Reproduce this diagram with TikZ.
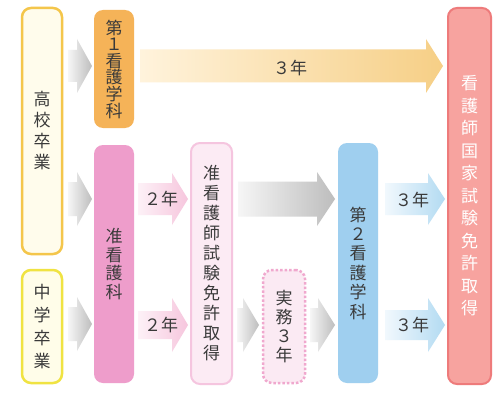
\documentclass[tikz,border=0pt]{standalone}
\usepackage{fontspec}
\newfontfamily\jp{Noto Sans CJK JP}
\definecolor{txt}{HTML}{3A3A3A}
\definecolor{hsB}{HTML}{F4C64B}
\definecolor{hsF}{HTML}{FFFCEC}
\definecolor{csB}{HTML}{F0E342}
\definecolor{csF}{HTML}{FFFDE9}
\definecolor{orBox}{HTML}{F5B358}
\definecolor{pkBox}{HTML}{EE9DCB}
\definecolor{jmF}{HTML}{FCEBF4}
\definecolor{jmB}{HTML}{F5C5DF}
\definecolor{jtF}{HTML}{FBEAF3}
\definecolor{jtB}{HTML}{F0A8CE}
\definecolor{blBox}{HTML}{9FCFEF}
\definecolor{rdF}{HTML}{F7A39F}
\definecolor{rdB}{HTML}{EE7B7B}
\definecolor{grL}{HTML}{F6F6F6}
\definecolor{grR}{HTML}{BDBDBD}
\definecolor{orL}{HTML}{FFF3DC}
\definecolor{orR}{HTML}{F6CF86}
\definecolor{pkL}{HTML}{FDF1F7}
\definecolor{pkR}{HTML}{F6C6DD}
\definecolor{blL}{HTML}{F1F8FD}
\definecolor{blR}{HTML}{B3DBF2}
\newcommand{\fatarr}[7]{%
  \shade[#1] (#2,#5-#6) -- (#3,#5-#6) -- (#3,#5-#7) -- (#4,#5) -- (#3,#5+#7) -- (#3,#5+#6) -- (#2,#5+#6) -- cycle;}
\begin{document}
\begin{tikzpicture}[x=1pt,y=-1pt,
  box/.style={rounded corners=9pt, inner sep=0pt, align=center, text=txt},
  vtext/.style={font=\jp\fontsize{17}{#1}\selectfont},
  lbl/.style={font=\jp\fontsize{17}{20}\selectfont, text=txt, inner sep=0pt},
  grayarr/.style={left color=grL, right color=grR},
  orarr/.style={left color=orL, right color=orR},
  pkarr/.style={left color=pkL, right color=pkR},
  blarr/.style={left color=blL, right color=blR}]
\useasboundingbox[fill=white] (0,0) rectangle (500,401);
% boxes
\node[box, draw=hsB, line width=2.5pt, fill=hsF, minimum width=40pt, minimum height=246pt, vtext=21] (hs) at (42,131) {高\\校\\卒\\業};
\node[box, draw=csB, line width=2.5pt, fill=csF, minimum width=40pt, minimum height=113pt, vtext=22.7] (cs) at (42,326.5) {中\\学\\卒\\業};
\node[box, fill=orBox, minimum width=40pt, minimum height=118pt, vtext=16.6] (n1) at (114,69) {第\\１\\看\\護\\学\\科};
\node[box, fill=pkBox, minimum width=40pt, minimum height=238pt, vtext=18.7] (jk) at (114,264) {准\\看\\護\\科};
\node[box, draw=jmB, line width=2pt, fill=jmF, minimum width=41pt, minimum height=241pt, vtext=20] (jm) at (211.5,263.5) {准\\看\\護\\師\\試\\験\\免\\許\\取\\得};
\node[box, draw=jtB, line width=2.5pt, dotted, fill=jtF, minimum width=42pt, minimum height=113pt, vtext=19] (jt) at (284,326.5) {実\\務\\３\\年};
\node[box, fill=blBox, minimum width=40pt, minimum height=240pt, vtext=19.4] (n2) at (358,263) {第\\２\\看\\護\\学\\科};
\node[box, draw=rdB, line width=2pt, fill=rdF, text=white, minimum width=43pt, minimum height=376pt, vtext=22.5] (kk) at (469.5,196) {看\\護\\師\\国\\家\\試\\験\\免\\許\\取\\得};
% arrows
\fatarr{grayarr}{68}{77}{92}{66}{16}{27}
\fatarr{grayarr}{68}{77}{92}{199}{17}{27}
\fatarr{grayarr}{68}{77}{92}{324}{17}{27}
\fatarr{orarr}{140}{426}{443}{66}{16.5}{27}
\fatarr{pkarr}{138}{172}{188}{199}{16}{26}
\fatarr{pkarr}{138}{172}{188}{325}{14}{27}
\fatarr{grayarr}{238}{317}{335}{199}{17.5}{27}
\fatarr{grayarr}{237}{243}{259}{325}{17}{27}
\fatarr{grayarr}{310}{318}{335}{325}{17}{27}
\fatarr{blarr}{385}{428}{445}{199}{16}{26}
\fatarr{blarr}{385}{428}{445}{325}{15}{27}
% labels
\node[lbl] (l1) at (290,68) {３年};
\node[lbl] (l2) at (161,199) {２年};
\node[lbl] (l3) at (161,325) {２年};
\node[lbl] (l4) at (412,200) {３年};
\node[lbl] (l5) at (412,325) {３年};
\end{tikzpicture}
\end{document}
